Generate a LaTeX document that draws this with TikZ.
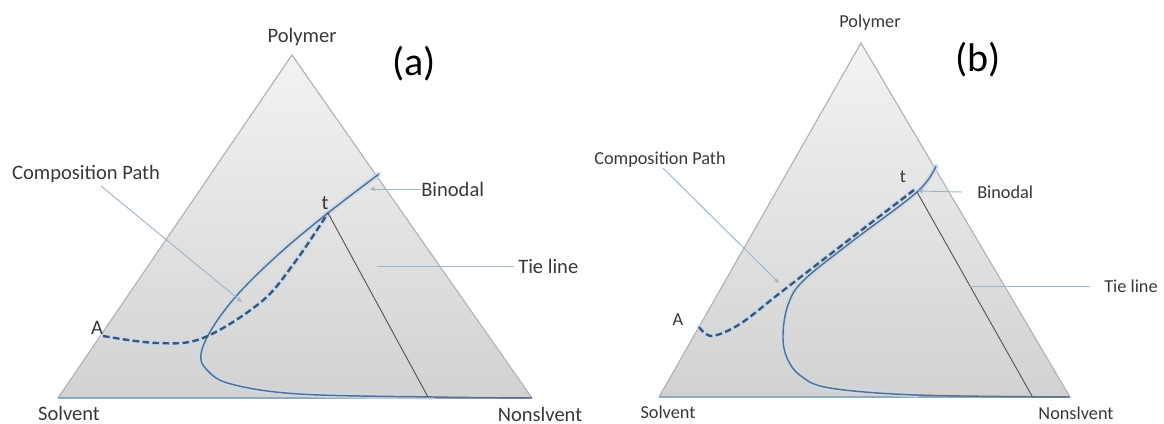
\documentclass[tikz,border=0pt]{standalone}
\usepackage{fontspec}
\setmainfont{Carlito}
\usetikzlibrary{arrows.meta}
\definecolor{txt}{HTML}{383838}
\definecolor{tritop}{HTML}{F3F3F5}
\definecolor{tribot}{HTML}{D2D2D2}
\definecolor{edgec}{HTML}{B4B4B4}
\definecolor{basec}{HTML}{8FA9C2}
\definecolor{binc}{HTML}{5C6F88}
\definecolor{dashc}{HTML}{3E5675}
\definecolor{glowc}{HTML}{C6DCF0}
\definecolor{tiec}{HTML}{555555}
\definecolor{ptrc}{HTML}{9DB5C9}
\tikzset{
  tri/.style={top color=tritop, bottom color=tribot},
  edge/.style={draw=edgec, line width=0.9pt, line join=miter},
  baseedge/.style={draw=basec, line width=1.4pt},
  glow/.style={draw=glowc, line width=4pt, opacity=0.7, line cap=round},
  binodal/.style={draw=binc, line width=1.1pt},
  compdash/.style={draw=dashc, line width=1.8pt, dash pattern=on 5pt off 2.5pt},
  tieln/.style={draw=tiec, line width=0.7pt},
  ptr/.style={draw=ptrc, line width=0.7pt},
  ptrtip/.style={ptr, -{Stealth[length=4pt,width=3.5pt]}},
  lbla/.style={text=txt, inner sep=0pt, font=\fontsize{15.4}{18}\selectfont},
  lblb/.style={text=txt, inner sep=0pt, font=\fontsize{13.7}{16}\selectfont},
  panel/.style={text=black, inner sep=0pt, font=\fontsize{30}{34}\selectfont}
}
\begin{document}
\begin{tikzpicture}[x=0.75pt,y=-0.75pt]
\useasboundingbox (0,0) rectangle (1164,424);
% ---------------- panel (a) ----------------
\coordinate (Sa) at (58,398);
\coordinate (Na) at (532,398);
\coordinate (Pa) at (292,55);
\path[tri] (Sa) -- (Pa) -- (Na) -- cycle;
\draw[edge] (Sa) -- (Pa) -- (Na);
\draw[baseedge] (Sa) -- (Na);
\coordinate (ta) at (328,213);
\coordinate (Aa) at (103,336);
\coordinate (tiea) at (428,397);
% glow
\draw[glow] plot[smooth, tension=0.6] coordinates {(379,174) (328,213) (280,253) (239,293) (213,327) (201,354) (207,370) (231,384) (299,394) (433,397)};
\draw[glow] plot[smooth, tension=0.6] coordinates {(103,336) (157,343) (203,338) (261,302) (295,262) (328,213)};
% binodal
\draw[binodal] plot[smooth, tension=0.6] coordinates {(379,174) (328,213) (280,253) (239,293) (213,327) (201,354) (207,370) (231,384) (299,394) (433,397) (532,398)};
% composition path
\draw[compdash] plot[smooth, tension=0.6] coordinates {(103,336) (157,343) (203,338) (261,302) (295,262) (328,213)};
% tie line
\draw[tieln] (ta) -- (tiea);
% labels
\node[lbla] (polya) at (302,37) {Polymer};
\node[panel] (labela) at (414,64) {(a)};
\node[lbla] (compa) at (86,174) {Composition Path};
\node[lbla, anchor=west] (bina) at (421,189) {Binodal};
\node[lbla, anchor=west] (tiela) at (518,266) {Tie line};
\node[lbla] (tlaba) at (325,203) {t};
\node[lbla] (alaba) at (97,328) {A};
\node[lbla] (solva) at (69,413) {Solvent};
\node[lbla] (nonsa) at (540,414) {Nonslvent};
% pointers
\coordinate (cpa1) at (101,186);
\coordinate (cpa2) at (242,302);
\draw[ptrtip] (cpa1) -- (cpa2);
\coordinate (bpa) at (370,189);
\draw[ptrtip] (bina.west) -- (bpa);
\coordinate (tpa) at (377,266);
\draw[ptr] (tiela.west) ++(-4,0) -- (tpa);
% ---------------- panel (b) ----------------
\coordinate (Sb) at (659,397);
\coordinate (Nb) at (1070,397);
\coordinate (Pb) at (861,43);
\path[tri] (Sb) -- (Pb) -- (Nb) -- cycle;
\draw[edge] (Sb) -- (Pb) -- (Nb);
\draw[baseedge] (Sb) -- (Nb);
\coordinate (tb) at (917,192);
\coordinate (tieb) at (1032,396);
\draw[glow] plot[smooth, tension=0.6] coordinates {(936,166) (917,192) (850,243) (803,281) (788,305) (783,335) (787,358) (801,376) (830,388) (917,395)};
\draw[glow] plot[smooth, tension=0.55] coordinates {(699,327) (712,336) (740,324) (780,293) (850,239) (914,190)};
\draw[binodal] plot[smooth, tension=0.6] coordinates {(936,166) (917,192) (850,243) (803,281) (788,305) (783,335) (787,358) (801,376) (830,388) (917,395) (1070,397)};
\draw[compdash] plot[smooth, tension=0.55] coordinates {(699,327) (712,336) (740,324) (780,293) (850,239) (914,190)};
\draw[tieln] (tb) -- (tieb);
\node[lblb] (polyb) at (870,23) {Polymer};
\node[panel] (labelb) at (978,60) {(b)};
\node[lblb] (compb) at (660,160) {Composition Path};
\node[lblb, anchor=west] (binb) at (977,192) {Binodal};
\node[lblb, anchor=west] (tielb) at (1104,286) {Tie line};
\node[lblb] (tlabb) at (903,177) {t};
\node[lblb] (alabb) at (678,320) {A};
\node[lblb] (solvb) at (668,412) {Solvent};
\node[lblb] (nonsb) at (1076,413) {Nonslvent};
\coordinate (cpb1) at (663,168);
\coordinate (cpb2) at (779,283);
\draw[ptrtip] (cpb1) -- (cpb2);
\coordinate (bpb0) at (962,192);
\coordinate (bpb) at (918,191);
\draw[ptrtip] (bpb0) -- (bpb);
\coordinate (tpb0) at (1090,286);
\coordinate (tpb) at (970,286);
\draw[ptr] (tpb0) -- (tpb);
\end{tikzpicture}
\end{document}
